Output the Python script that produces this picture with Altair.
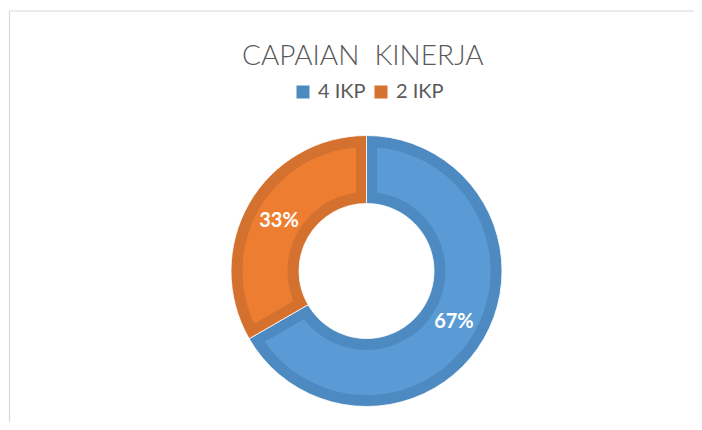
import altair as alt
import pandas as pd

# ---- data ----
categories = ["4 IKP", "2 IKP"]
values = [4, 2]
band_colors = ["#4E8AC2", "#D4712F"]
fill_colors = ["#5B9BD5", "#ED7D31"]
title_text = "CAPAIAN\u00a0 KINERJA"

total = sum(values)
df = pd.DataFrame({
    "kategori": categories,
    "nilai": values,
    "urutan": list(range(len(categories))),
    "label": [f"{round(v * 100 / total)}%" for v in values],
})

CX, CY = 358.5, 263  # donut centre in view coordinates

theta = alt.Theta("nilai:Q", stack=True)
order = alt.Order("urutan:Q")
base = alt.Chart(df)

border = alt.Chart(pd.DataFrame({"b": [0]})).mark_rect(
    fillOpacity=0, stroke="#D9D9D9", strokeWidth=1.2
).encode(x=alt.value(1.5), x2=alt.value(900), y=alt.value(3), y2=alt.value(900))

outer = base.mark_arc(outerRadius=135.5, innerRadius=67.5, stroke="white", strokeWidth=0.8).encode(
    theta=theta,
    order=order,
    color=alt.Color(
        "kategori:N",
        scale=alt.Scale(domain=categories, range=band_colors),
        legend=alt.Legend(
            title=None, orient="none", legendX=285, legendY=74, direction="horizontal",
            symbolType="square", symbolSize=169, symbolStrokeWidth=0, symbolOpacity=1,
            labelFont="Lato", labelFontSize=20, labelColor="#595959",
            labelOffset=5, columnPadding=5, padding=0,
        ),
    ),
    x=alt.value(CX),
    y=alt.value(CY),
)

inner = base.mark_arc(outerRadius=124, innerRadius=79, padAngle=0.1429).encode(
    theta=theta,
    order=order,
    fill=alt.Fill("kategori:N", scale=alt.Scale(domain=categories, range=fill_colors), legend=None),
    x=alt.value(CX),
    y=alt.value(CY),
)

labels = base.mark_text(
    radius=101, font="Lato", fontSize=20, fontWeight="bold", color="white",
    align="center", baseline="middle",
).encode(theta=theta, order=order, text="label:N", x=alt.value(CX), y=alt.value(CY))

title_mark = alt.Chart(pd.DataFrame({"t": [title_text]})).mark_text(
    font="Lato", fontSize=28, fontWeight=300, color="#595959", align="center", baseline="alphabetic"
).encode(text="t:N", x=alt.value(354.9), y=alt.value(57))

chart = alt.layer(border, outer, inner, labels, title_mark).properties(
    width=686, height=414, autosize=alt.AutoSizeParams(type="none"), padding=0
).configure_view(strokeWidth=0)

chart.save("out.html", embed_options={"renderer": "svg", "actions": False})
